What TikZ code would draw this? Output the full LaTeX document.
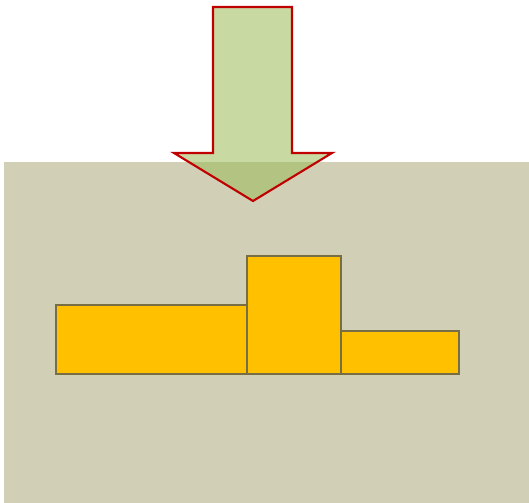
\documentclass[tikz,border=0pt]{standalone}
\usepackage{xcolor}
\usepackage{tikz}

\definecolor{ground}{RGB}{210,207,183}
\definecolor{arrowgreen}{RGB}{155,186,86}
\definecolor{arrowred}{RGB}{192,0,0}
\definecolor{blockfill}{RGB}{255,192,0}
\definecolor{blockline}{RGB}{120,110,70}

\tikzset{
    block/.style={draw=blockline, fill=blockfill, line width=0.6pt, rectangle,
        inner sep=0pt, outer sep=0pt, anchor=south west},
    pusharrow/.style={draw=arrowred, fill=arrowgreen, fill opacity=0.55,
        line width=1.2pt, line join=miter}
}

\begin{document}
\begin{tikzpicture}[x=0.02cm, y=-0.02cm]
    \useasboundingbox (0, 0) rectangle (529, 503);

    % ground
    \fill[ground] (4, 162) rectangle (529, 503);

    % blocks
    \node[block, minimum width=3.82cm, minimum height=1.38cm] at (56, 374) (B1) {};
    \node[block, minimum width=1.88cm, minimum height=2.36cm] at (247, 374) (B2) {};
    \node[block, minimum width=2.36cm, minimum height=0.86cm] at (341, 374) (B3) {};

    % arrow
    \draw[pusharrow] (213, 7) -- (292, 7) -- (292, 153) -- (332, 153)
        -- (253, 201) -- (174, 153) -- (213, 153) -- cycle;
\end{tikzpicture}
\end{document}
